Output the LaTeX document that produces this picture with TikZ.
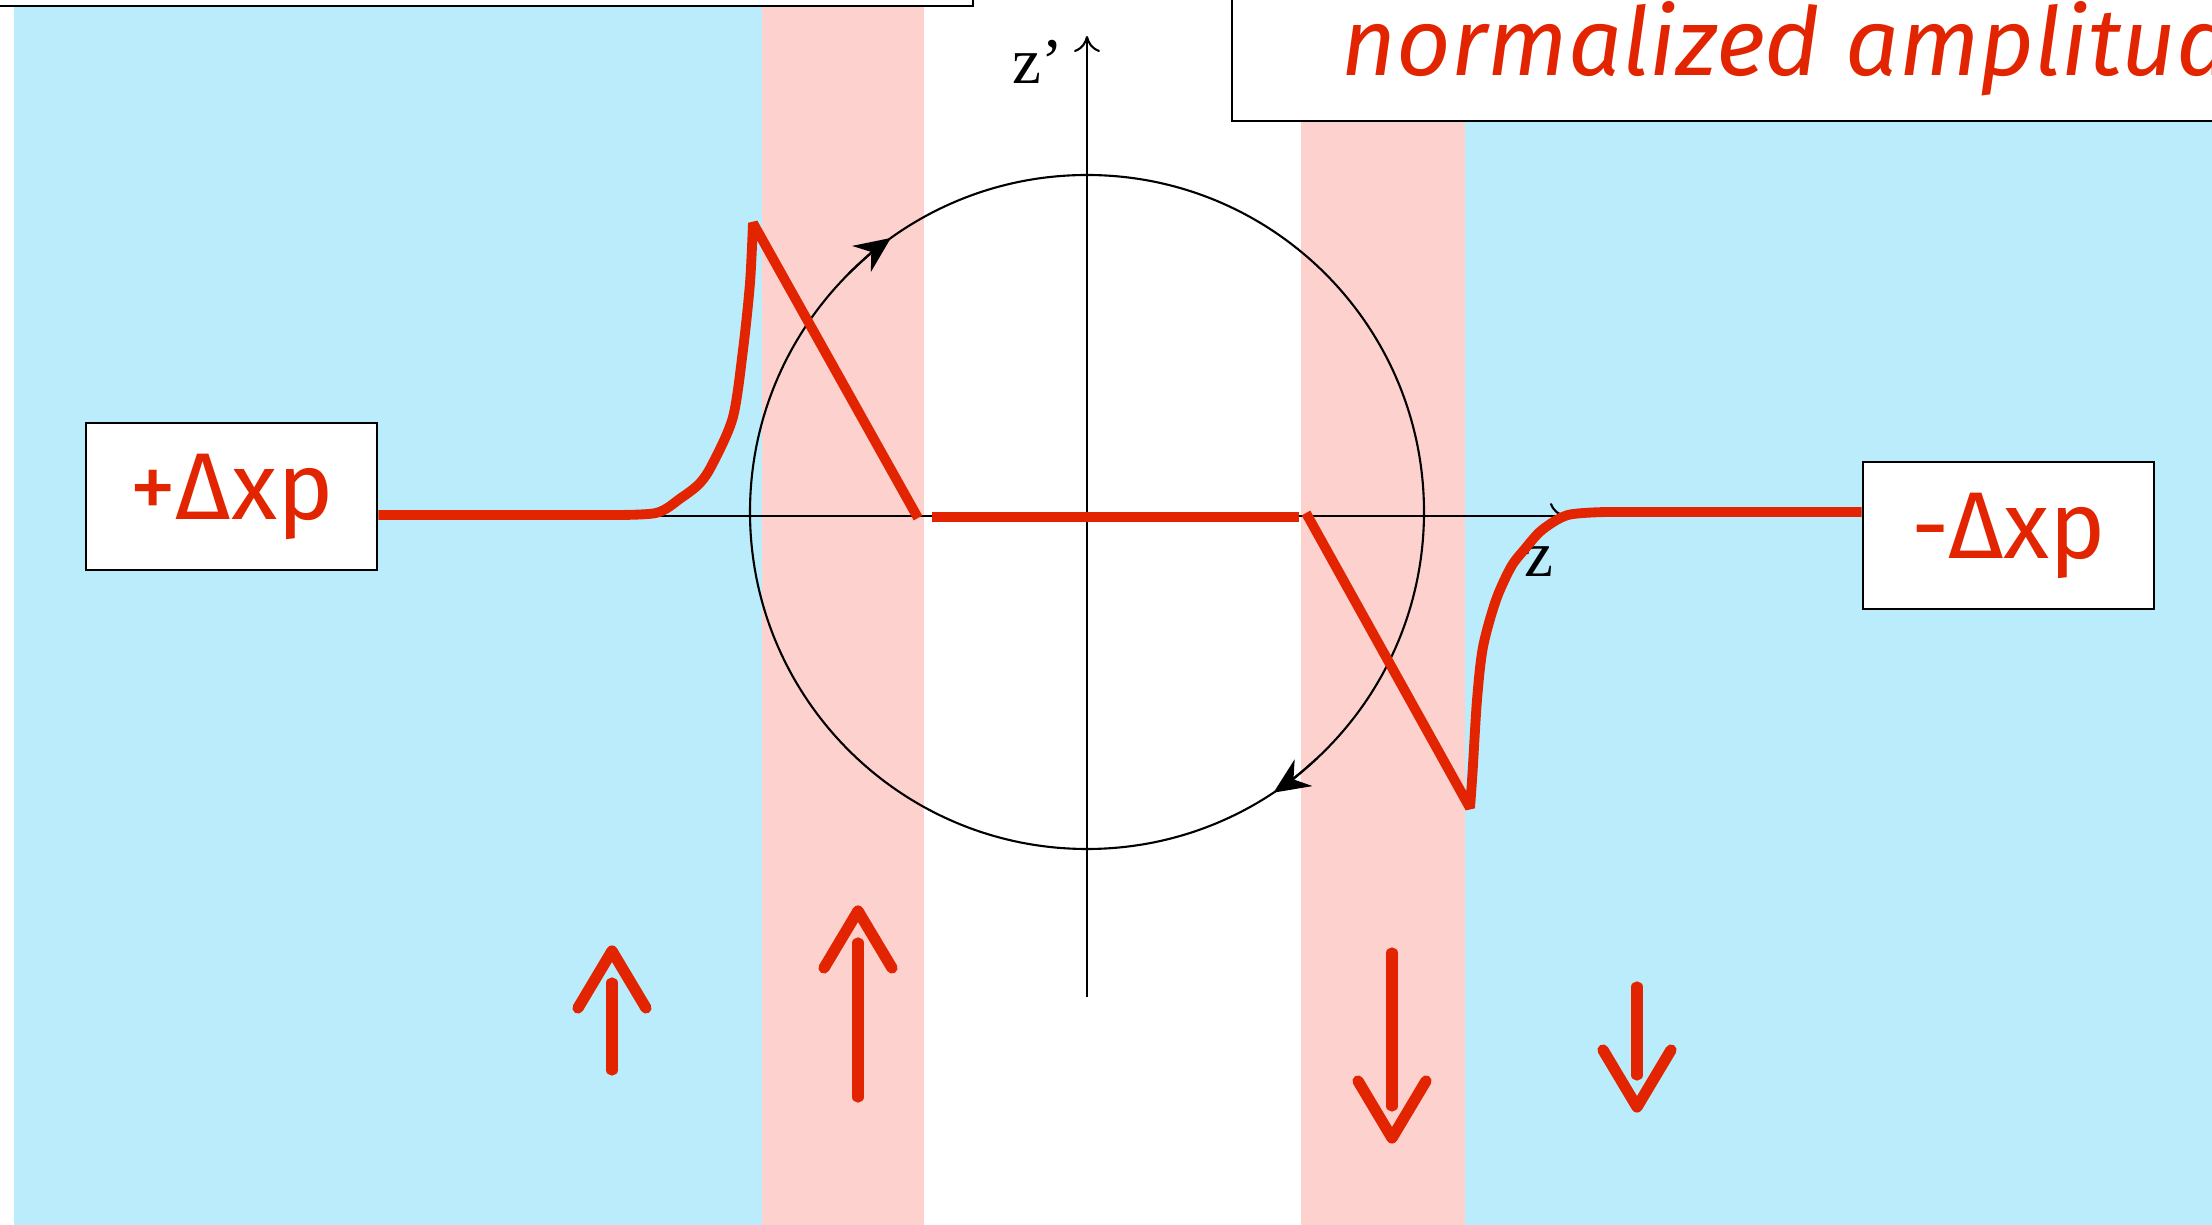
\documentclass[tikz,border=0pt]{standalone}
\usepackage{fontspec}
\setmainfont{Liberation Serif}
\newfontfamily\handfont{Fira Sans}
\usepackage{xcolor}
\usepackage{tikz}
\usetikzlibrary{arrows.meta,positioning}
\definecolor{SkyBand}{HTML}{BAECFC}
\definecolor{RoseBand}{HTML}{FDD2CE}
\definecolor{SignalRed}{HTML}{E22500}

\begin{document}
\begin{tikzpicture}[
    font=\handfont,
    % 红字标签框，统一尺寸
    labelbox/.style={draw=black, line width=0.8pt, fill=white, minimum width=2.91cm, minimum height=1.47cm, inner sep=0pt, text=SignalRed, font=\handfont\fontsize{27}{30}\selectfont},
    topbox/.style={draw=black, line width=0.8pt, fill=white},
    axis/.style={line width=0.6pt, -{To[length=1.6mm, width=2.6mm]}},
    axlabel/.style={font=\fontsize{18.5}{20}\selectfont, inner sep=1pt},
    curve/.style={draw=SignalRed, line width=2.8pt, line join=bevel},
    spin/.style={draw=SignalRed, line width=3.2pt, line cap=round, line join=round},
    circarr/.style={line width=0.6pt, -{Stealth[length=3.6mm, width=3.2mm, inset=1.2mm]}}
]
% 固定画幅并裁剪
\useasboundingbox (-10.87,-7.09) rectangle (11.25,5.16);
\clip (-10.87,-7.09) rectangle (11.25,5.16);

% 背景色带：蓝-粉-白-粉-蓝
\fill[SkyBand] (-10.73,-7.2) rectangle (-3.25,5.3);
\fill[RoseBand] (-3.25,-7.2) rectangle (-1.63,5.3);
\fill[RoseBand] (2.14,-7.2) rectangle (3.78,5.3);
\fill[SkyBand] (3.78,-7.2) rectangle (11.4,5.3);

% 顶部两个框（超出画幅部分被裁掉）
\draw[topbox] (-11.2,5.10) rectangle (-1.14,5.6);
\draw[topbox] (1.45,3.95) rectangle (11.6,5.6);
\node[anchor=base west, text=SignalRed, inner sep=0pt, font=\handfont\itshape\fontsize{27}{30}\selectfont] (title) at (2.54,4.40) {normalized amplitude};

% 坐标轴
\coordinate (o) at (0,0.04);
\coordinate (zl) at (-4.80,0);
\coordinate (zr) at (4.79,0);
\coordinate (zb) at (0,-4.81);
\coordinate (zt) at (0,4.80);
\draw[axis] (zl) -- (zr);
\draw[axis] (zb) -- (zt);
\node[axlabel, below left=0cm and 0.2cm of zt] (zplabel) {z’};
\node[axlabel, below=0.26cm of zr, xshift=-0.27cm] (zlabel) {z};

% 圆及顺时针箭头
\draw[line width=0.6pt] (o) circle[radius=3.37];
\draw[circarr] (o) ++(135:3.37) arc[start angle=135, end angle=125.6, radius=3.37];
\draw[circarr] (o) ++(-47:3.37) arc[start angle=-47, end angle=-56.4, radius=3.37];

% 两侧标签
\node[labelbox] (lbox) at (-8.555,0.195) {+Δxp};
\node[labelbox] (rbox) at (9.215,-0.195) {-Δxp};
\coordinate (lrail) at (-4.80,0.01);
\coordinate (rrail) at (5.20,0.04);

% 红色幅度曲线
\draw[curve] (lbox.east |- lrail) -- plot[smooth, tension=0.5] coordinates {(-4.80,0.01) (-4.31,0.03) (-4.06,0.18) (-3.87,0.33) (-3.74,0.53) (-3.54,0.99) (-3.44,1.66) (-3.37,2.33) (-3.34,2.93)} -- (-1.69,-0.02);
\draw[curve] (-1.55,-0.01) -- (2.12,-0.01);
\draw[curve] (2.19,0.03) -- plot[smooth, tension=0.5] coordinates {(3.83,-2.92) (3.855,-2.57) (3.90,-1.84) (3.96,-1.31) (4.09,-0.84) (4.24,-0.51) (4.37,-0.34) (4.55,-0.14) (4.81,0.01) (5.20,0.04)} -- (rbox.west |- rrail);

% 底部手绘箭头：x / 尾端 / 箭尖 / 方向
\foreach \x/\s/\e/\d in {-4.75/-5.54/-4.35/1, -2.29/-5.81/-3.95/1, 3.05/-4.37/-6.22/-1, 5.50/-4.71/-5.91/-1} {
    \draw[spin] (\x,\s) -- (\x,{\e-(\d)*0.32});
    \draw[spin] ({\x-0.34},{\e-(\d)*0.57}) -- (\x,\e) -- ({\x+0.34},{\e-(\d)*0.57});
}

\end{tikzpicture}
\end{document}
